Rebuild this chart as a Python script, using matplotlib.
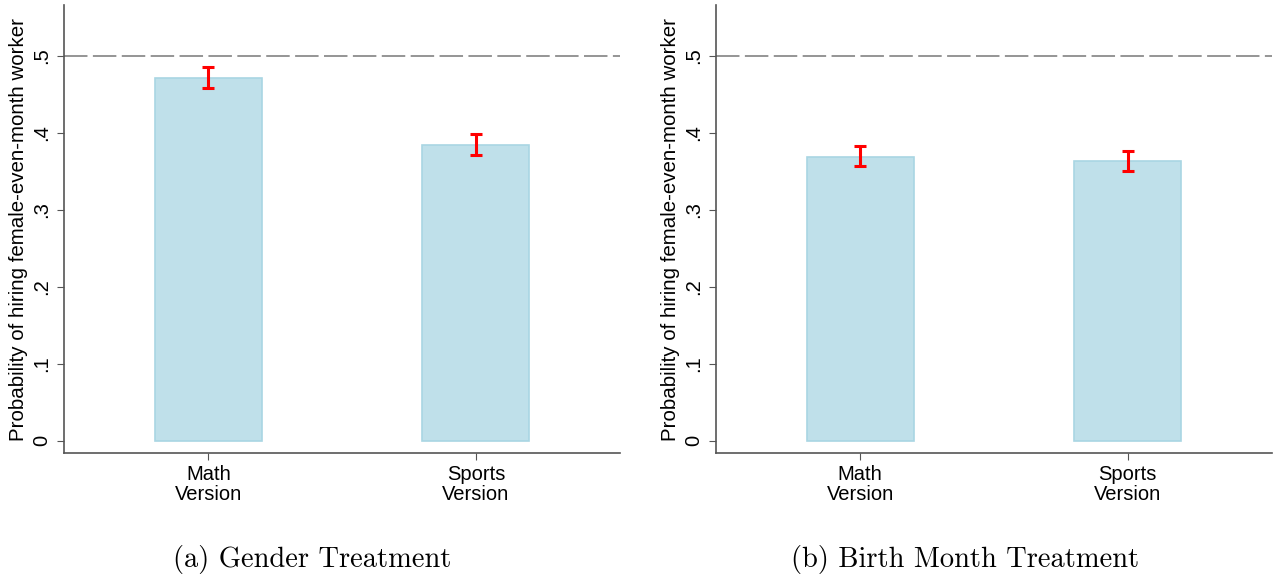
import numpy as np
import matplotlib.pyplot as plt

# Data
versions = ['Math\nVersion', 'Sports\nVersion']
gender_mean = [0.472, 0.384]
gender_lo = [0.458, 0.371]
gender_hi = [0.486, 0.399]
birth_mean = [0.369, 0.364]
birth_lo = [0.357, 0.351]
birth_hi = [0.383, 0.377]
captions = ['(a) Gender Treatment', '(b) Birth Month Treatment']
ylabel = 'Probability of hiring female-even-month worker'
yticks = [0, 0.1, 0.2, 0.3, 0.4, 0.5]
yticklabels = ['0', '.1', '.2', '.3', '.4', '.5']

plt.rcParams['font.family'] = ['Liberation Sans', 'DejaVu Sans']

fig = plt.figure(figsize=(12.76, 5.77), dpi=100)
ax1 = fig.add_axes([0.0502, 0.215, 0.436, 0.776])
ax2 = fig.add_axes([0.561, 0.215, 0.436, 0.776])

panels = [(ax1, gender_mean, gender_lo, gender_hi, captions[0], 0.2445),
          (ax2, birth_mean, birth_lo, birth_hi, captions[1], 0.756)]

for ax, mean, lo, hi, cap, capx in panels:
    x = np.array([1, 2])
    mean = np.array(mean)
    err = [mean - np.array(lo), np.array(hi) - mean]
    ax.bar(x, mean, width=0.4, color='#bfe0ea', edgecolor='#a9d6e3', linewidth=1.2, zorder=2)
    ax.errorbar(x, mean, yerr=err, fmt='none', ecolor='#ff0000', elinewidth=2.2,
                capsize=4, capthick=2.2, zorder=3)
    ax.axhline(0.5, color='#8c8c8c', linestyle=(0, (13, 3)), linewidth=1.3, zorder=1)
    ax.set_xlim(0.461, 2.54)
    ax.set_ylim(-0.0156, 0.566)
    ax.set_xticks(x)
    ax.set_xticklabels(versions, fontsize=14.5, linespacing=1.05)
    ax.set_yticks(yticks)
    ax.set_yticklabels(yticklabels, fontsize=14.5, rotation=90, va='center')
    ax.set_ylabel(ylabel, fontsize=14.8, labelpad=3)
    for s in ['top', 'right']:
        ax.spines[s].set_visible(False)
    for s in ['left', 'bottom']:
        ax.spines[s].set_color('#555555')
        ax.spines[s].set_linewidth(1.2)
    ax.tick_params(axis='both', direction='out', length=5, color='#555555', pad=4)
    fig.text(capx, 0.0295, cap, ha='center', va='center', fontsize=20.5, family='cmr10')

fig.savefig('out.png', dpi=100)
